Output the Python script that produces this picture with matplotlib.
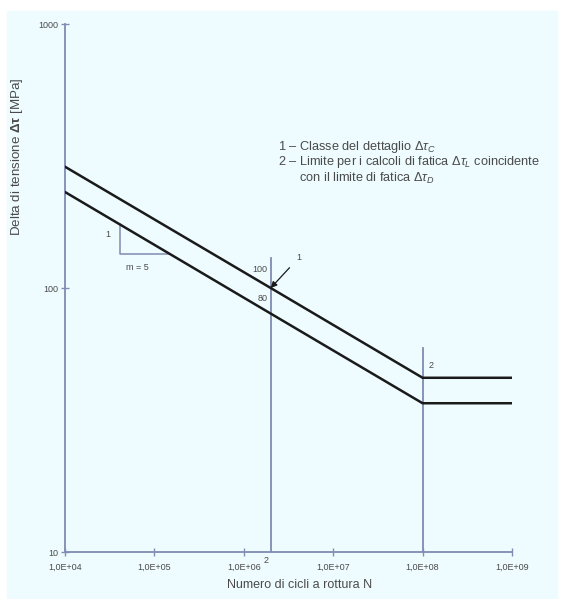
import matplotlib
matplotlib.use("Agg")
from matplotlib import pyplot
from matplotlib.patches import Rectangle

pyplot.rcParams['font.family'] = ['Liberation Sans', 'DejaVu Sans']
pyplot.rcParams['mathtext.fontset'] = 'custom'
pyplot.rcParams['mathtext.rm'] = 'Liberation Sans'
pyplot.rcParams['mathtext.it'] = 'Liberation Sans:italic'
pyplot.rcParams['mathtext.bf'] = 'Liberation Sans:bold'

# S-N curve break points (cycles) and stress ranges (MPa)
n_points = [1e4, 2e6, 1e8, 1e9]
curve_100 = [288, 100, 45.7, 45.7]
curve_80 = [231, 80, 36.6, 36.6]

# reference lines at N_C and N_D
n_c = 2e6
n_d = 1e8

# slope triangle m = 5 on the lower curve
tri_n = [4.1e4, 4.1e4, 1.5e5]
tri_s = [174, 134.5, 134.5]

x_ticks = [1e4, 1e5, 1e6, 1e7, 1e8, 1e9]
x_labels = ["1,0E+04", "1,0E+05", "1,0E+06", "1,0E+07", "1,0E+08", "1,0E+09"]
y_ticks = [10, 100, 1000]
y_labels = ["10", "100", "1000"]

axis_col = '#7f8cb3'
text_col = '#4a4a4a'
bg_col = '#eefcff'

fig = pyplot.figure(figsize=(5.63, 5.99), dpi=100)
bg = Rectangle((7 / 563, 0), 550 / 563, 588 / 599,
               transform=fig.transFigure, color=bg_col, zorder=-10)
fig.add_artist(bg)

ax = fig.add_axes([65 / 563, 47 / 599, 447 / 563, 528 / 599])
ax.set_zorder(5)
ax.set_facecolor('none')
ax.set_xscale('log')
ax.set_yscale('log')
ax.set_xlim(1e4, 1e9)
ax.set_ylim(10, 1000)

for s in ['top', 'right']:
    ax.spines[s].set_visible(False)
for s in ['left', 'bottom']:
    ax.spines[s].set_color(axis_col)
    ax.spines[s].set_linewidth(1.3)

ax.set_xticks(x_ticks, x_labels)
ax.set_yticks(y_ticks, y_labels)
ax.minorticks_off()
ax.tick_params(direction='inout', length=6, width=1, color=axis_col,
               labelsize=6.5, labelcolor=text_col)
ax.tick_params(axis='x', pad=5)
ax.tick_params(axis='y', pad=2)

# curves
ax.plot(n_points, curve_100, color='#1a1a1a', lw=1.8, zorder=3)
ax.plot(n_points, curve_80, color='#1a1a1a', lw=1.8, zorder=3)

# vertical reference lines
ax.plot([n_c, n_c], [10, 130], color=axis_col, lw=1.3, zorder=2)
ax.plot([n_d, n_d], [10, 59], color=axis_col, lw=1.3, zorder=2)

# slope triangle
ax.plot(tri_n, tri_s, color=axis_col, lw=1.1, zorder=2)
ax.text(3.0e4, 160, "1", fontsize=6.5, color=text_col, ha='center', va='center')
ax.text(6.4e4, 120, "m = 5", fontsize=6.5, color=text_col, ha='center', va='center')

# labels on the N_C line
ax.text(1.85e6, 118, "100", fontsize=6.5, color=text_col, ha='right', va='center')
ax.text(1.85e6, 91.5, "80", fontsize=6.5, color=text_col, ha='right', va='center')
ax.annotate("1", xy=(n_c, 100), xytext=(4.1e6, 130), fontsize=6.5, color=text_col,
            ha='center', va='center',
            arrowprops=dict(arrowstyle='-|>', color='#1a1a1a', lw=0.9,
                            shrinkA=4, shrinkB=0, mutation_scale=9))
ax.text(1.25e8, 51, "2", fontsize=6.5, color=text_col, ha='center', va='center')
ax.text(1.78e6, 9.3, "2", fontsize=6.5, color=text_col, ha='center', va='center',
        clip_on=False)

# legend text
leg = [r"1 – Classe del dettaglio $\Delta\tau_C$",
       r"2 – Limite per i calcoli di fatica $\Delta\tau_L$ coincidente",
       r"      con il limite di fatica $\Delta\tau_D$"]
for i, t in enumerate(leg):
    fig.text(278 / 563, 1 - (147 + 15.5 * i) / 599, t, fontsize=9.2,
             color=text_col, ha='left', va='center')

fig.text(300 / 563, 1 - 585 / 599, "Numero di cicli a rottura N", fontsize=9,
         color=text_col, ha='center', va='center')
fig.text(17 / 563, 1 - 157 / 599, r"Delta di tensione $\mathbf{\Delta\tau}$ [MPa]",
         fontsize=9.6, color=text_col, rotation=90, ha='center', va='center')

pyplot.savefig("out.png", dpi=100)
